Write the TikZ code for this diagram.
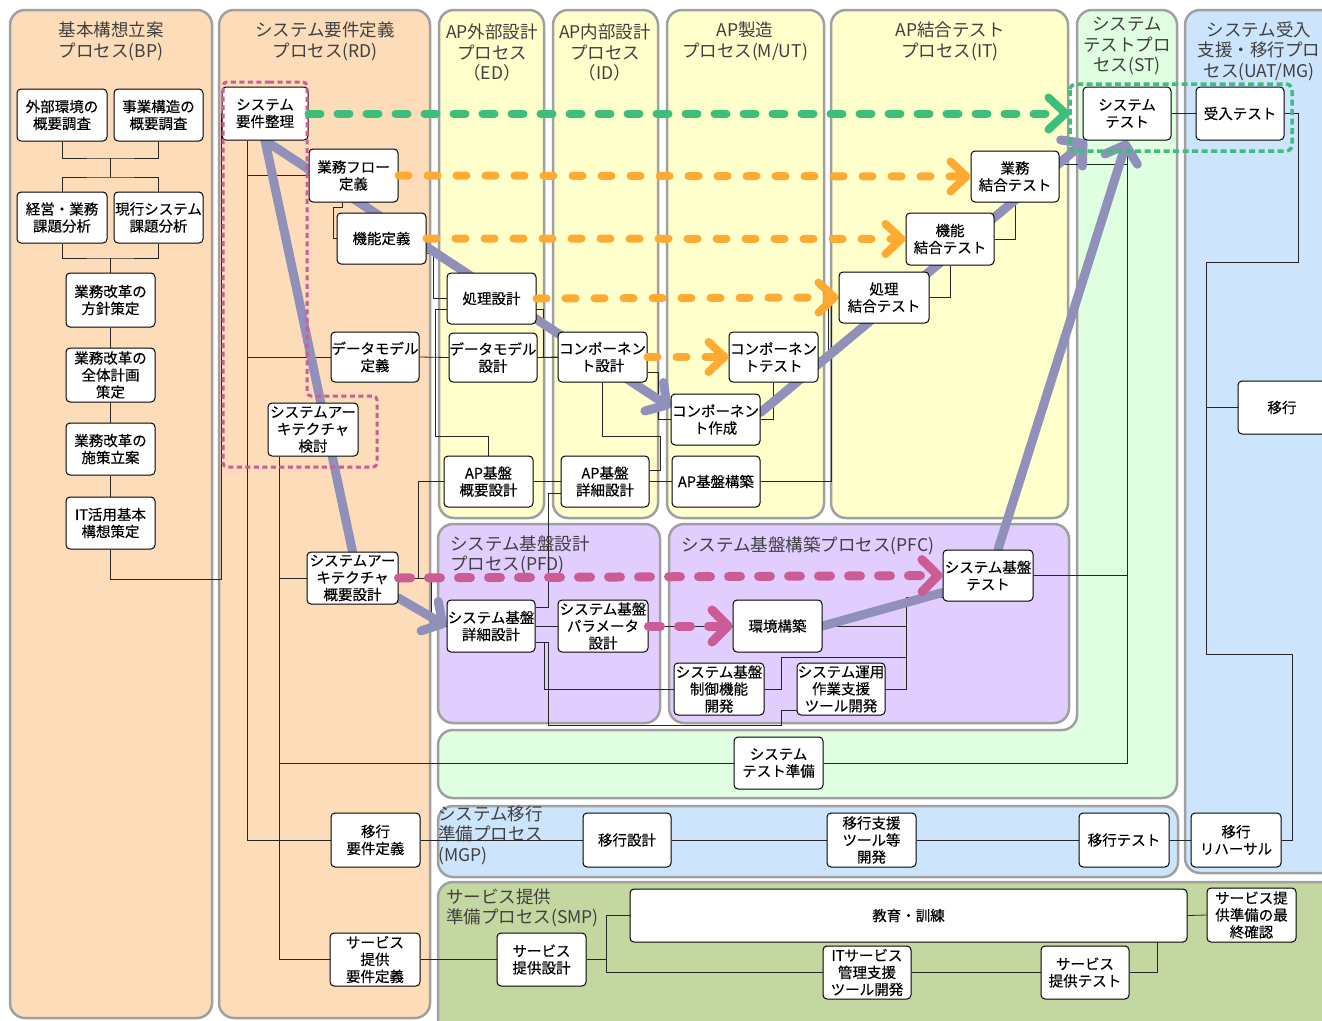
\documentclass[tikz,border=0pt]{standalone}
\usepackage{fontspec}
\setmainfont{Noto Sans CJK JP}
\newfontfamily\boxfamily{Noto Sans CJK JP}[FakeBold=0.25]
\usetikzlibrary{arrows.meta}

\definecolor{lanePeach}{HTML}{FDDCB9}
\definecolor{laneYellow}{HTML}{FFFFCC}
\definecolor{laneGreen}{HTML}{E0FFE0}
\definecolor{laneLilac}{HTML}{E2CDFF}
\definecolor{laneBlue}{HTML}{CDE4FD}
\definecolor{laneOlive}{HTML}{C5D7A0}
\definecolor{laneEdge}{HTML}{A0A0A0}
\definecolor{flowLav}{HTML}{9090BA}
\definecolor{flowGreen}{HTML}{3DBE7B}
\definecolor{flowOrange}{HTML}{FFAA33}
\definecolor{flowPink}{HTML}{CC5C96}
\definecolor{titleInk}{HTML}{404040}

\newcommand{\boxfont}{\boxfamily\fontsize{14.5pt}{17pt}\selectfont}
\newcommand{\lanefont}{\fontsize{17.5pt}{20.5pt}\selectfont}

\pgfdeclarelayer{lanes}
\pgfdeclarelayer{wires}
\pgfdeclarelayer{thick}
\pgfdeclarelayer{over}
\pgfsetlayers{lanes,wires,thick,main,over}

\tikzset{
  laneshape/.style={draw=laneEdge, line width=2.5pt, rounded corners=15pt},
  lanetitle/.style={font=\lanefont, text=titleInk, align=center, inner sep=0pt},
  procbox/.style={draw=black, fill=white, line width=1pt, rounded corners=4pt,
    inner sep=0pt, align=center, font=\boxfont, minimum width=89pt, minimum height=52pt},
  conn/.style={draw=black!85, line width=0.8pt},
  vline/.style={draw=flowLav, line width=9pt, line cap=round, line join=round},
  vtip/.style={-{Straight Barb[length=15pt,width=34pt,round]}},
  gline/.style={draw=flowGreen, line width=8pt, line cap=round, dash pattern=on 12pt off 17pt,
    -{Straight Barb[length=17pt,width=32pt,round]}},
  oline/.style={draw=flowOrange, line width=8pt, line cap=round, dash pattern=on 10pt off 19pt,
    -{Straight Barb[length=16pt,width=30pt,round]}},
  pline/.style={draw=flowPink, line width=9pt, line cap=round, dash pattern=on 12pt off 18pt,
    -{Straight Barb[length=16pt,width=32pt,round]}},
  pdot/.style={draw=flowPink, line width=3pt, dash pattern=on 5pt off 3.5pt, rounded corners=4pt},
  gdot/.style={draw=flowGreen, line width=3.5pt, dash pattern=on 6pt off 3.5pt, rounded corners=6pt},
}

\begin{document}
\begin{tikzpicture}[x=1pt,y=-1pt]
\useasboundingbox (0,0) rectangle (1322,1020);

% ---------- process lanes ----------
\begin{pgfonlayer}{lanes}
\begin{scope}
\clip (0,0) rectangle (1322,1020);
\fill[white] (0,0) rectangle (1322,1020);
\filldraw[laneshape, fill=lanePeach] (10,10) rectangle (212,1018);
\filldraw[laneshape, fill=lanePeach] (219,10) rectangle (430,1018);
\filldraw[laneshape, fill=laneYellow] (439,10) rectangle (544,518);
\filldraw[laneshape, fill=laneYellow] (553,10) rectangle (658,518);
\filldraw[laneshape, fill=laneYellow] (667,10) rectangle (824,518);
\filldraw[laneshape, fill=laneYellow] (831,10) rectangle (1068,518);
\filldraw[laneshape, fill=laneGreen] (1127,10) -- (1177,10) -- (1177,798) -- (438,798)
  -- (438,730) -- (1077,730) -- (1077,10) -- cycle;
\filldraw[laneshape, fill=laneBlue] (1185,10) rectangle (1345,873);
\filldraw[laneshape, fill=laneLilac] (438,524) rectangle (660,723);
\filldraw[laneshape, fill=laneLilac] (669,524) rectangle (1069,723);
\filldraw[laneshape, fill=laneBlue] (438,806) rectangle (1178,877);
\filldraw[laneshape, fill=laneOlive] (438,882) rectangle (1345,1040);
\end{scope}

\node[lanetitle] (tBP) at (111,41.5) {基本構想立案\\プロセス(BP)};
\node[lanetitle] (tRD) at (325,41.5) {システム要件定義\\プロセス(RD)};
\node[lanetitle] (tED) at (492,52.5) {AP外部設計\\プロセス\\（ED）};
\node[lanetitle] (tID) at (605,52.5) {AP内部設計\\プロセス\\（ID）};
\node[lanetitle] (tMU) at (745,41.5) {AP製造\\プロセス(M/UT)};
\node[lanetitle] (tIT) at (950,41.5) {AP結合テスト\\プロセス(IT)};
\node[lanetitle] (tST) at (1127,46) {システム\\テストプロ\\セス(ST)};
\node[lanetitle] (tUA) at (1259,51) {システム受入\\支援・移行プロ\\セス(UAT/MG)};
\node[lanetitle, anchor=west, align=left] (tPFD) at (450,555) {システム基盤設計\\プロセス(PFD)};
\node[lanetitle, anchor=west, align=left] (tPFC) at (681,546) {システム基盤構築プロセス(PFC)};
\node[lanetitle, anchor=west, align=left] (tMGP) at (438,835) {システム移行\\準備プロセス\\(MGP)};
\node[lanetitle, anchor=west, align=left] (tSMP) at (446,908) {サービス提供\\準備プロセス(SMP)};
\end{pgfonlayer}

% ---------- activity boxes ----------
% BP
\node[procbox, minimum width=90pt] (bp1) at (62,115) {外部環境の\\概要調査};
\node[procbox] (bp2) at (158.5,115) {事業構造の\\概要調査};
\node[procbox, minimum width=90pt, minimum height=51pt] (bp3) at (62,217.5) {経営・業務\\課題分析};
\node[procbox, minimum height=51pt] (bp4) at (158.5,217.5) {現行システム\\課題分析};
\node[procbox, minimum height=54pt] (bp5) at (110.5,300) {業務改革の\\方針策定};
\node[procbox, minimum height=54pt] (bp6) at (110.5,375) {業務改革の\\全体計画\\策定};
\node[procbox] (bp7) at (110.5,449) {業務改革の\\施策立案};
\node[procbox] (bp8) at (110.5,523) {IT活用基本\\構想策定};
% RD
\node[procbox, minimum width=86pt, minimum height=53pt] (rd1) at (265,113.5) {システム\\要件整理};
\node[procbox, minimum height=53pt] (rd2) at (353.5,175.5) {業務フロー\\定義};
\node[procbox, minimum height=51pt] (rd3) at (381.5,238.5) {機能定義};
\node[procbox, minimum width=88pt, minimum height=50pt] (rd4) at (375,357) {データモデル\\定義};
\node[procbox, minimum width=90pt, minimum height=53pt] (rd5) at (313,429.5) {システムアー\\キテクチャ\\検討};
\node[procbox, minimum width=91pt] (rd6) at (352.5,578) {システムアー\\キテクチャ\\概要設計};
\node[procbox, minimum height=54pt] (rd7) at (375.5,840) {移行\\要件定義};
\node[procbox, minimum width=90pt, minimum height=53pt] (rd8) at (375,959.5) {サービス\\提供\\要件定義};
% ED / ID / M-UT
\node[procbox, minimum height=51pt] (ed1) at (491.5,298.5) {処理設計};
\node[procbox, minimum width=88pt, minimum height=49pt] (ed2) at (493,357.5) {データモデル\\設計};
\node[procbox, minimum height=51pt] (ed3) at (488.5,481.5) {AP基盤\\概要設計};
\node[procbox, minimum height=50pt] (id1) at (602.5,357) {コンポーネン\\ト設計};
\node[procbox, minimum width=88pt, minimum height=51pt] (id2) at (605,481.5) {AP基盤\\詳細設計};
\node[procbox, minimum height=51pt] (mu1) at (715.5,419.5) {コンポーネン\\ト作成};
\node[procbox, minimum height=50pt] (mu2) at (773.5,357) {コンポーネン\\トテスト};
\node[procbox, minimum width=88pt, minimum height=51pt] (mu3) at (716,481.5) {AP基盤構築};
% IT
\node[procbox, minimum width=90pt, minimum height=51pt] (it1) at (884,297.5) {処理\\結合テスト};
\node[procbox, minimum width=88pt] (it2) at (950,239) {機能\\結合テスト};
\node[procbox, minimum width=88pt, minimum height=51pt] (it3) at (1015,176.5) {業務\\結合テスト};
% ST / UAT
\node[procbox, minimum width=88pt, minimum height=53pt] (st1) at (1127,113.5) {システム\\テスト};
\node[procbox] (st2) at (778.5,763) {システム\\テスト準備};
\node[procbox, minimum width=88pt, minimum height=53pt] (ua1) at (1240,113.5) {受入テスト};
\node[procbox, minimum width=88pt, minimum height=53pt] (ua2) at (1282,407.5) {移行};
\node[procbox, minimum width=90pt, minimum height=54pt] (ua3) at (1236,840) {移行\\リハーサル};
% PFD / PFC
\node[procbox, minimum width=88pt] (pf1) at (491,626) {システム基盤\\詳細設計};
\node[procbox, minimum width=90pt] (pf2) at (603,626) {システム基盤\\パラメータ\\設計};
\node[procbox] (pf3) at (777.5,626) {環境構築};
\node[procbox, minimum width=90pt] (pf4) at (719,689) {システム基盤\\制御機能\\開発};
\node[procbox, minimum width=88pt] (pf5) at (841,689) {システム運用\\作業支援\\ツール開発};
\node[procbox, minimum width=90pt, minimum height=51pt] (pf6) at (988,575.5) {システム基盤\\テスト};
% MGP
\node[procbox, minimum width=88pt, minimum height=54pt] (mg1) at (627,840) {移行設計};
\node[procbox, minimum height=54pt] (mg2) at (871.5,840) {移行支援\\ツール等\\開発};
\node[procbox, minimum width=90pt, minimum height=54pt] (mg3) at (1124,840) {移行テスト};
% SMP
\node[procbox, minimum height=53pt] (sm1) at (541.5,959.5) {サービス\\提供設計};
\node[procbox, minimum width=557pt, minimum height=53pt] (sm2) at (908.5,915.5) {教育・訓練};
\node[procbox, minimum width=88pt, minimum height=53pt] (sm3) at (867,972.5) {ITサービス\\管理支援\\ツール開発};
\node[procbox, minimum width=88pt, minimum height=53pt] (sm4) at (1085,972.5) {サービス\\提供テスト};
\node[procbox, minimum height=54pt] (sm5) at (1251.5,915) {サービス提\\供準備の最\\終確認};

% ---------- thin dependency lines ----------
\begin{pgfonlayer}{wires}
\coordinate (jA) at (110.5,158);
\coordinate (jB) at (110.5,177);
\coordinate (jC) at (110.5,258);
\draw[conn] (bp1.south) |- (jA) -| (bp2.south);
\draw[conn] (jA) -- (jB);
\draw[conn] (bp3.north) |- (jB) -| (bp4.north);
\draw[conn] (bp3.south) |- (jC) -| (bp4.south);
\draw[conn] (jC) -- (bp5.north);
\draw[conn] (bp5.south) -- (bp6.north);
\draw[conn] (bp6.south) -- (bp7.north);
\draw[conn] (bp7.south) -- (bp8.north);
\draw[conn] (bp8.south) |- (221,579) |- (rd1.west);

\coordinate (trunkA) at (247,0);
\coordinate (trunkB) at (279,0);
\draw[conn] (rd1.south -| trunkA) |- (rd7.west);
\draw[conn] (rd2.west -| trunkA) -- (rd2.west);
\draw[conn] (rd4.west -| trunkA) -- (rd4.west);
\draw[conn] ([xshift=-11.5pt]rd2.south) -- ++(0,5) -- ++(-9,0) |- (rd3.west);
\draw[conn] (rd5.south -| trunkB) |- (rd8.west);
\draw[conn] (rd6.west -| trunkB) -- (rd6.west);
\draw[conn] (st2.west -| trunkB) -- (st2.west);
\draw[conn] (rd6.east) -- ++(33,0) |- (pf1.west);
\draw[conn] (rd6.east) -- ++(20,0) |- (ed3.west);
\draw[conn] (rd4.east) -- (ed2.west);
\draw[conn] ([yshift=-14.5pt]rd3.east) -- ++(7,0) |- (ed1.west);
\draw[conn] (ed3.north) -- ++(0,-19) -| (435,309) -- (543,309) |- (id1.west);
\draw[conn] (ed2.east) -- (id1.west);
\draw[conn] (ed3.east) -- (id2.west);
\draw[conn] (id2.east) -- (mu3.west);
\draw[conn] (id1.south) |- (660,436.5) |- ([yshift=11.5pt]id2.east);
\draw[conn] ([yshift=-15pt]id1.east) -- ++(11,0) |- (mu1.west);
\draw[conn] (mu1.east) -| (mu2.south);
\draw[conn] (mu2.east) -- ++(10,0) |- (it1.west);
\draw[conn] (mu3.east) -| ([xshift=-7pt]it1.west);
\draw[conn] (it1.east) -| (it2.south);
\draw[conn] (it2.east) -| (it3.south);
\draw[conn] ([yshift=12.5pt]it3.east) -| (st1.south);
\draw[conn] (st1.south) |- (st2.east);
\draw[conn] (pf6.east) -- (pf6.east -| st1.south);
\draw[conn] (st1.east) -- (ua1.west);
\coordinate (uaTrunk) at (1206,0);
\draw[conn] (ua1.east) -- ++(14,0) |- (1206,262) -- (1206,654) -| (1292,840) -- (ua3.east);
\draw[conn] (uaTrunk |- ua2.west) -- (ua2.west);
\draw[conn] (rd7.east) -- (mg1.west);
\draw[conn] (mg1.east) -- (mg2.west);
\draw[conn] (mg2.east) -- (mg3.west);
\draw[conn] (mg3.east) -- (ua3.west);
\draw[conn] (rd8.east) -- (sm1.west);
\draw[conn] (sm1.east) -- ++(20,0) coordinate (smJ) |- (sm2.west);
\draw[conn] (smJ) |- (sm3.west);
\draw[conn] (sm3.east) -- (sm4.west);
\draw[conn] (sm4.east) -- ++(28,0) -- ++(0,-30.5);
\draw[conn] (sm2.east) -- (sm5.west);
\draw[conn] (pf1.east) -- (pf2.west);
\draw[conn] (pf2.east) -- (pf3.west);
\coordinate (pfJ) at (906,597);
\draw[conn] (pf3.east) -- (pf3.east -| pfJ);
\draw[conn] (pfJ) -- (pfJ -| pf6.west);
\draw[conn] (pfJ) |- (pf5.east);
\draw[conn] (pf4.east) -- ++(17,0) |- (906,657);
\draw[conn] ([yshift=-16pt]pf1.east) -- ++(9,0) |- (pf4.west);
\draw[conn] ([yshift=-16pt]pf1.east) -- ++(13,0) |- (781,725) |- ([yshift=-21pt]pf5.west);
\draw[conn] ([yshift=19pt]pf1.east) -- ++(13,0) |- ([yshift=-11.5pt]id2.west);
\end{pgfonlayer}

% ---------- V-model flow ----------
\begin{pgfonlayer}{thick}
\draw[vline] (rd1.south) -- (rd6.north);
\draw[vline, vtip] (rd1.south) -- ([yshift=12pt]mu1.west);
\draw[vline, vtip] ([yshift=7pt]mu1.east) -- ([xshift=4pt]st1.south west);
\draw[vline, vtip] ([yshift=-20pt]rd6.east) -- (pf1.west);
\draw[vline] (pf3.east) -- ([yshift=-17pt]pf6.west);
\draw[vline, vtip] ([xshift=10pt]pf6.north) -- (st1.south);
\end{pgfonlayer}

% ---------- verification links and groupings ----------
\begin{pgfonlayer}{over}
\draw[pdot] (265,82) -- (307,82) -- (307,396) -- (377,396) -- (377,467) -- (223,467) -- (223,82) -- cycle;
\draw[gdot] (1070,84) rectangle (1292,151);
\draw[gline] (rd1.east) -- ([xshift=-13pt]st1.west);
\draw[oline] (rd2.east) -- (it3.west);
\draw[oline] (rd3.east) -- (it2.west);
\draw[oline] (ed1.east) -- (it1.west);
\draw[oline] (id1.east) -- (mu2.west);
\draw[pline] (rd6.east) -- (pf6.west);
\draw[pline] (pf2.east) -- (pf3.west);
\end{pgfonlayer}
\end{tikzpicture}
\end{document}
